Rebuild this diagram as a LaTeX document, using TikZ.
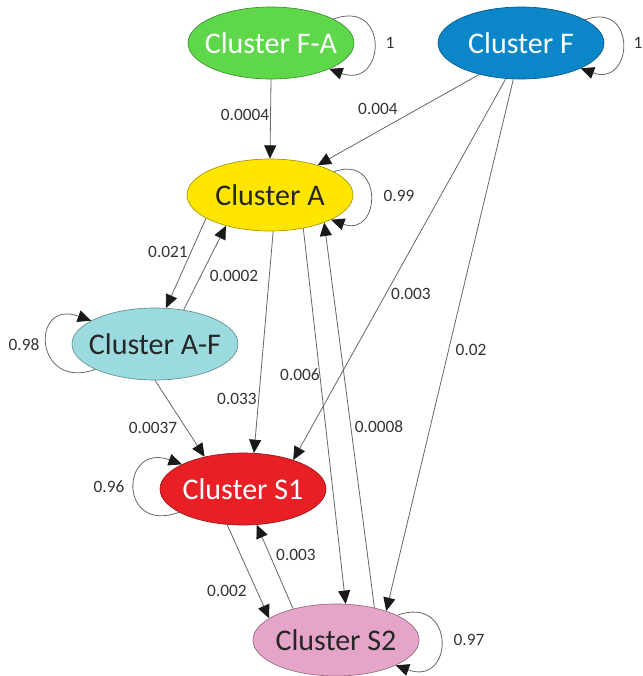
\documentclass[tikz,border=0pt]{standalone}
\usepackage{fontspec}
\setmainfont{Carlito}
\usetikzlibrary{arrows.meta, shapes.geometric}

\definecolor{clgreen}{RGB}{95,215,75}
\definecolor{clblue}{RGB}{10,134,201}
\definecolor{clyellow}{RGB}{255,229,0}
\definecolor{clcyan}{RGB}{155,218,222}
\definecolor{clred}{RGB}{232,32,38}
\definecolor{clpink}{RGB}{228,165,200}

\newcommand{\cname}[1]{\makebox[0pt]{#1}}

\begin{document}
\begin{tikzpicture}[x=0.75pt, y=0.75pt,
  cl/.style={ellipse, draw=#1!65!black, fill=#1, line width=0.5pt, minimum width=124.5pt, minimum height=54pt, inner sep=0pt, font=\fontsize{22.5}{26}\selectfont},
  arr/.style={draw=black!60, line width=0.6pt, -{Triangle[length=10pt, width=9pt, color=black!90]}},
  lbl/.style={font=\fontsize{13}{15}\selectfont, text=black!80, inner sep=0pt}
]
\useasboundingbox (0,0) rectangle (643,-676);

% clusters
\node[cl=clgreen, text=white] (fa) at (271,-43) {\cname{Cluster F-A}};
\node[cl=clblue, text=white] (f) at (521,-43) {\cname{Cluster F}};
\node[cl=clyellow, text=black!85] (a) at (270,-195) {\cname{Cluster A}};
\node[cl=clcyan, text=black!85] (af) at (155,-344) {\cname{Cluster A-F}};
\node[cl=clred, text=white] (s1) at (243,-489) {\cname{Cluster S1}};
\node[cl=clpink, text=black!85] (s2) at (336,-640) {\cname{Cluster S2}};

% self loops
\draw[arr] (fa.21) to[out=20, in=-20, distance=45pt] (fa.-24);
\draw[arr] (f.20) to[out=20, in=-20, distance=42pt] (f.-23);
\draw[arr] (a.20) to[out=20, in=-20, distance=40pt] (a.-22);
\draw[arr] (af.-157) to[out=200, in=160, distance=49pt] (af.160);
\draw[arr] (s1.-160) to[out=200, in=160, distance=49pt] (s1.158);
\draw[arr] (s2.22) to[out=20, in=-20, distance=47pt] (s2.-23);

% transitions
\draw[arr] (fa.south) -- (a.north);
\draw[arr] (f.-143) -- (a.32);
\draw[arr] (f.-113) -- (s1.30);
\draw[arr] (f.-102) -- (s2.30);
\draw[arr] (a.-160) -- (af.73);
\draw[arr] (af.50) -- (a.-145);
\draw[arr] (a.-85) -- (s1.73);
\draw[arr] (a.-45) -- (s2.75);
\draw[arr] (s2.40) -- (a.-27);
\draw[arr] (af.-90) -- (s1.140);
\draw[arr] (s1.-114) -- (s2.162);
\draw[arr] (s2.144) -- (s1.-69);

% probabilities
\node[lbl] (pfa) at (390,-43) {1};
\node[lbl] (pf) at (638,-43) {1};
\node[lbl] (pa) at (399,-196) {0.99};
\node[lbl] (paf) at (24,-345) {0.98};
\node[lbl] (ps1) at (109,-487) {0.96};
\node[lbl] (ps2) at (469,-640) {0.97};
\node[lbl] (pfaa) at (245,-115) {0.0004};
\node[lbl] (pfa2) at (378,-109) {0.004};
\node[lbl] (pfs1) at (411,-294) {0.003};
\node[lbl] (pfs2) at (471,-350) {0.02};
\node[lbl] (paaf) at (168,-252) {0.021};
\node[lbl] (pafa) at (234,-276) {0.0002};
\node[lbl] (pas1) at (237,-399) {0.033};
\node[lbl] (pas2) at (300,-375) {0.006};
\node[lbl] (ps2a) at (379,-427) {0.0008};
\node[lbl] (pafs1) at (153,-428) {0.0037};
\node[lbl] (ps1s2) at (227,-591) {0.002};
\node[lbl] (ps2s1) at (296,-555) {0.003};
\end{tikzpicture}
\end{document}
